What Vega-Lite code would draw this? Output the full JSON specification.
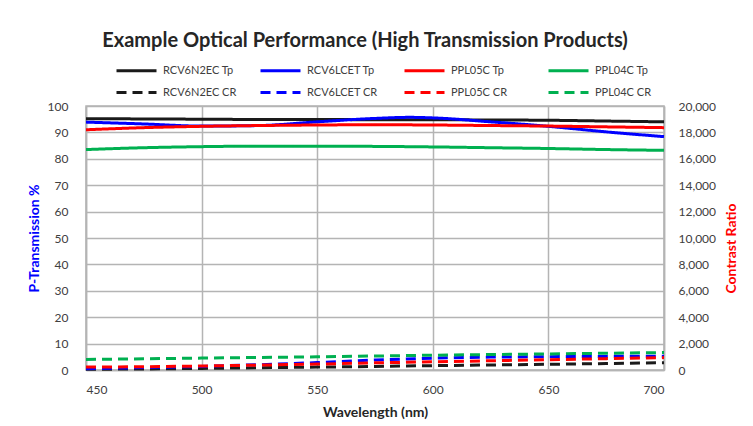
{
  "$schema": "https://vega.github.io/schema/vega-lite/v6.json",
  "autosize": {"type": "none"},
  "width": 578,
  "height": 264,
  "padding": {"left": 86, "top": 106, "right": 89, "bottom": 56},
  "background": "white",
  "config": {
    "font": "Lato",
    "view": {"stroke": "#b4b4b4", "strokeWidth": 1.5},
    "axis": {"labelFont": "Lato", "labelFontSize": 12, "labelColor": "#404040", "titleFont": "Lato", "titleFontSize": 14, "titleFontWeight": "bold", "gridColor": "#b4b4b4", "gridWidth": 1.5, "domainColor": "#b4b4b4", "domainWidth": 1.5, "ticks": false}
  },
  "title": {"text": "Example Optical Performance (High Transmission Products)", "fontSize": 20, "fontWeight": "bold", "color": "#262626", "font": "Lato", "anchor": "middle", "offset": 8, "dx": -10},
  "datasets": {
    "tp": [
      {"wl": 450, "series": "RCV6N2EC Tp", "v": 95.2}, {"wl": 475, "series": "RCV6N2EC Tp", "v": 95.1}, {"wl": 500, "series": "RCV6N2EC Tp", "v": 95.0}, {"wl": 525, "series": "RCV6N2EC Tp", "v": 94.9}, {"wl": 550, "series": "RCV6N2EC Tp", "v": 94.9}, {"wl": 575, "series": "RCV6N2EC Tp", "v": 94.8}, {"wl": 600, "series": "RCV6N2EC Tp", "v": 94.8}, {"wl": 625, "series": "RCV6N2EC Tp", "v": 94.7}, {"wl": 650, "series": "RCV6N2EC Tp", "v": 94.6}, {"wl": 675, "series": "RCV6N2EC Tp", "v": 94.3}, {"wl": 700, "series": "RCV6N2EC Tp", "v": 94.0},
      {"wl": 450, "series": "RCV6LCET Tp", "v": 93.9}, {"wl": 475, "series": "RCV6LCET Tp", "v": 93.2}, {"wl": 500, "series": "RCV6LCET Tp", "v": 92.4}, {"wl": 525, "series": "RCV6LCET Tp", "v": 92.6}, {"wl": 550, "series": "RCV6LCET Tp", "v": 94.0}, {"wl": 575, "series": "RCV6LCET Tp", "v": 95.3}, {"wl": 590, "series": "RCV6LCET Tp", "v": 95.7}, {"wl": 600, "series": "RCV6LCET Tp", "v": 95.5}, {"wl": 625, "series": "RCV6LCET Tp", "v": 94.0}, {"wl": 650, "series": "RCV6LCET Tp", "v": 92.3}, {"wl": 675, "series": "RCV6LCET Tp", "v": 90.2}, {"wl": 700, "series": "RCV6LCET Tp", "v": 88.4},
      {"wl": 450, "series": "PPL05C Tp", "v": 91.0}, {"wl": 475, "series": "PPL05C Tp", "v": 91.8}, {"wl": 500, "series": "PPL05C Tp", "v": 92.3}, {"wl": 525, "series": "PPL05C Tp", "v": 92.6}, {"wl": 550, "series": "PPL05C Tp", "v": 92.8}, {"wl": 575, "series": "PPL05C Tp", "v": 92.9}, {"wl": 600, "series": "PPL05C Tp", "v": 92.8}, {"wl": 625, "series": "PPL05C Tp", "v": 92.6}, {"wl": 650, "series": "PPL05C Tp", "v": 92.4}, {"wl": 675, "series": "PPL05C Tp", "v": 92.1}, {"wl": 700, "series": "PPL05C Tp", "v": 91.8},
      {"wl": 450, "series": "PPL04C Tp", "v": 83.5}, {"wl": 475, "series": "PPL04C Tp", "v": 84.2}, {"wl": 500, "series": "PPL04C Tp", "v": 84.6}, {"wl": 525, "series": "PPL04C Tp", "v": 84.8}, {"wl": 550, "series": "PPL04C Tp", "v": 84.8}, {"wl": 575, "series": "PPL04C Tp", "v": 84.7}, {"wl": 600, "series": "PPL04C Tp", "v": 84.5}, {"wl": 625, "series": "PPL04C Tp", "v": 84.2}, {"wl": 650, "series": "PPL04C Tp", "v": 83.9}, {"wl": 675, "series": "PPL04C Tp", "v": 83.5}, {"wl": 700, "series": "PPL04C Tp", "v": 83.2}
    ],
    "cr": [
      {"wl": 450, "series": "RCV6N2EC CR", "v": 50}, {"wl": 475, "series": "RCV6N2EC CR", "v": 80}, {"wl": 500, "series": "RCV6N2EC CR", "v": 120}, {"wl": 525, "series": "RCV6N2EC CR", "v": 170}, {"wl": 550, "series": "RCV6N2EC CR", "v": 220}, {"wl": 575, "series": "RCV6N2EC CR", "v": 270}, {"wl": 600, "series": "RCV6N2EC CR", "v": 330}, {"wl": 625, "series": "RCV6N2EC CR", "v": 380}, {"wl": 650, "series": "RCV6N2EC CR", "v": 430}, {"wl": 675, "series": "RCV6N2EC CR", "v": 490}, {"wl": 700, "series": "RCV6N2EC CR", "v": 550},
      {"wl": 450, "series": "RCV6LCET CR", "v": 100}, {"wl": 475, "series": "RCV6LCET CR", "v": 180}, {"wl": 500, "series": "RCV6LCET CR", "v": 270}, {"wl": 525, "series": "RCV6LCET CR", "v": 400}, {"wl": 550, "series": "RCV6LCET CR", "v": 560}, {"wl": 575, "series": "RCV6LCET CR", "v": 760}, {"wl": 600, "series": "RCV6LCET CR", "v": 900}, {"wl": 625, "series": "RCV6LCET CR", "v": 980}, {"wl": 650, "series": "RCV6LCET CR", "v": 1010}, {"wl": 675, "series": "RCV6LCET CR", "v": 1030}, {"wl": 700, "series": "RCV6LCET CR", "v": 1050},
      {"wl": 450, "series": "PPL05C CR", "v": 220}, {"wl": 475, "series": "PPL05C CR", "v": 250}, {"wl": 500, "series": "PPL05C CR", "v": 300}, {"wl": 525, "series": "PPL05C CR", "v": 370}, {"wl": 550, "series": "PPL05C CR", "v": 450}, {"wl": 575, "series": "PPL05C CR", "v": 540}, {"wl": 600, "series": "PPL05C CR", "v": 620}, {"wl": 625, "series": "PPL05C CR", "v": 700}, {"wl": 650, "series": "PPL05C CR", "v": 780}, {"wl": 675, "series": "PPL05C CR", "v": 860}, {"wl": 700, "series": "PPL05C CR", "v": 940},
      {"wl": 450, "series": "PPL04C CR", "v": 800}, {"wl": 475, "series": "PPL04C CR", "v": 850}, {"wl": 500, "series": "PPL04C CR", "v": 900}, {"wl": 525, "series": "PPL04C CR", "v": 950}, {"wl": 550, "series": "PPL04C CR", "v": 1000}, {"wl": 575, "series": "PPL04C CR", "v": 1060}, {"wl": 600, "series": "PPL04C CR", "v": 1120}, {"wl": 625, "series": "PPL04C CR", "v": 1170}, {"wl": 650, "series": "PPL04C CR", "v": 1220}, {"wl": 675, "series": "PPL04C CR", "v": 1270}, {"wl": 700, "series": "PPL04C CR", "v": 1320}
    ]
  },
  "encoding": {
    "x": {"field": "wl", "type": "quantitative", "scale": {"domain": [450, 700], "nice": false, "zero": false}, "axis": {"values": [450, 500, 550, 600, 650, 700], "title": "Wavelength (nm)", "titleColor": "#262626", "labelPadding": 14, "titlePadding": 10}},
    "color": {"field": "series", "type": "nominal", "scale": {"domain": ["RCV6N2EC Tp", "RCV6LCET Tp", "PPL05C Tp", "PPL04C Tp", "RCV6N2EC CR", "RCV6LCET CR", "PPL05C CR", "PPL04C CR"], "range": ["#1a1a1a", "#0000ff", "#ff0000", "#00b050", "#1a1a1a", "#0000ff", "#ff0000", "#00b050"]}, "legend": {"title": null, "orient": "none", "legendX": 39, "legendY": -47, "columns": 4, "direction": "horizontal", "gridAlign": "all", "symbolType": "M-2,0H2", "symbolSize": 400, "symbolStrokeWidth": 3, "labelFont": "Lato", "labelFontSize": 11, "labelColor": "#404040", "labelOffset": 15, "columnPadding": 17, "rowPadding": 4, "padding": 0}},
    "strokeDash": {"field": "series", "type": "nominal", "scale": {"domain": ["RCV6N2EC Tp", "RCV6LCET Tp", "PPL05C Tp", "PPL04C Tp", "RCV6N2EC CR", "RCV6LCET CR", "PPL05C CR", "PPL04C CR"], "range": [[1, 0], [1, 0], [1, 0], [1, 0], [10, 6], [10, 6], [10, 6], [10, 6]]}, "legend": {"title": null}}
  },
  "layer": [
    {
      "data": {"name": "tp"},
      "mark": {"type": "line", "interpolate": "monotone", "strokeWidth": 3},
      "encoding": {
        "y": {"field": "v", "type": "quantitative", "scale": {"domain": [0, 100]}, "axis": {"values": [0, 10, 20, 30, 40, 50, 60, 70, 80, 90, 100], "title": "P-Transmission %", "titleColor": "#0000ff", "labelPadding": 18, "titlePadding": 6}}
      }
    },
    {
      "data": {"name": "cr"},
      "mark": {"type": "line", "strokeWidth": 3},
      "encoding": {
        "y": {"field": "v", "type": "quantitative", "scale": {"domain": [0, 20000]}, "axis": {"orient": "right", "values": [0, 2000, 4000, 6000, 8000, 10000, 12000, 14000, 16000, 18000, 20000], "format": ",d", "grid": false, "title": "Contrast Ratio", "titleColor": "#ff0000", "titleAngle": 270, "titleBaseline": "top", "titleY": 142, "labelPadding": 14, "titlePadding": 9}}
      }
    }
  ],
  "resolve": {"scale": {"y": "independent"}}
}
